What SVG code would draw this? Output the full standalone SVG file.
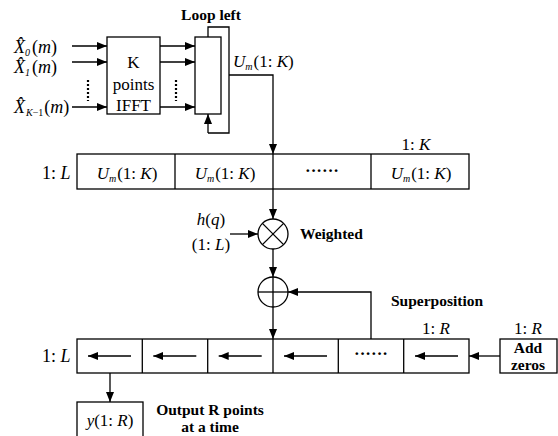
<svg xmlns="http://www.w3.org/2000/svg" width="558" height="436" viewBox="0 0 558 436" font-family="'Liberation Serif', 'Times New Roman', serif">
<defs>
<marker id="ar" viewBox="0 0 10 8" refX="10" refY="4" markerWidth="10" markerHeight="8" markerUnits="userSpaceOnUse" orient="auto">
<path d="M0,0 L10,4 L0,8 Z" fill="#000"/>
</marker>
</defs>
<style>
.ln{fill:none;stroke:#000;stroke-width:1.3}
.bx{fill:#fff;stroke:#000;stroke-width:1.3}
.a{marker-end:url(#ar)}
.m{font-size:17px;font-family:'Liberation Serif','Times New Roman',serif}
.x{font-size:18px;font-family:'Liberation Serif','Times New Roman',serif}
.b{font-size:15.5px;font-weight:bold;font-family:'Liberation Serif','Times New Roman',serif}
.i{font-style:italic}
.s{font-size:10px;font-style:italic}
.dot{stroke:#000;stroke-width:2.2;stroke-dasharray:2,2;fill:none}
</style>
<rect width="558" height="436" fill="#fff"/>

<g id="inputs">
<text class="x" x="14" y="53"><tspan class="i">X̂</tspan><tspan class="s" font-style="normal" dy="3">0</tspan><tspan dy="-3" dx="2">(</tspan><tspan class="i">m</tspan>)</text>
<text class="x" x="14" y="73"><tspan class="i">X̂</tspan><tspan class="s" font-style="normal" dy="3">1</tspan><tspan dy="-3" dx="2">(</tspan><tspan class="i">m</tspan>)</text>
<text class="x" x="14" y="113"><tspan class="i">X̂</tspan><tspan class="s" dy="3" dx="1">K</tspan><tspan font-size="10px">−1</tspan><tspan dy="-3" dx="1">(</tspan><tspan class="i">m</tspan>)</text>
<line class="dot" x1="88" y1="80" x2="88" y2="101"/>
</g>

<g id="ifft">
<rect class="bx" x="107" y="37" width="53" height="77"/>
<text class="m" x="133.5" y="68" text-anchor="middle">K</text>
<text class="m" x="133.5" y="90" text-anchor="middle">points</text>
<text class="m" x="133.5" y="111" text-anchor="middle">IFFT</text>
<line class="dot" x1="176" y1="80" x2="176" y2="101"/>
</g>

<g id="buffer">
<rect class="bx" x="195" y="37" width="26" height="77"/>
<text class="b" x="211" y="20" text-anchor="middle">Loop left</text>
<text class="m" x="233" y="67"><tspan class="i">U</tspan><tspan class="s" dy="3">m</tspan><tspan dy="-3" dx="1">(1: </tspan><tspan class="i">K</tspan>)</text>
</g>

<g id="row1">
<rect class="bx" x="77" y="154" width="392" height="35"/>
<line class="ln" x1="175" y1="154" x2="175" y2="189"/>
<line class="ln" x1="273" y1="154" x2="273" y2="189"/>
<line class="ln" x1="371" y1="154" x2="371" y2="189"/>
<text class="x" x="42" y="179"><tspan>1: </tspan><tspan class="i">L</tspan></text>
<text class="m" x="416" y="150" text-anchor="middle"><tspan>1: </tspan><tspan class="i">K</tspan></text>
<text class="m" x="127" y="179" text-anchor="middle"><tspan class="i">U</tspan><tspan class="s" dy="3">m</tspan><tspan dy="-3" dx="1">(1: </tspan><tspan class="i">K</tspan>)</text>
<text class="m" x="225" y="179" text-anchor="middle"><tspan class="i">U</tspan><tspan class="s" dy="3">m</tspan><tspan dy="-3" dx="1">(1: </tspan><tspan class="i">K</tspan>)</text>
<text class="m" x="322" y="176" text-anchor="middle" font-weight="bold">······</text>
<text class="m" x="421" y="179" text-anchor="middle"><tspan class="i">U</tspan><tspan class="s" dy="3">m</tspan><tspan dy="-3" dx="1">(1: </tspan><tspan class="i">K</tspan>)</text>
</g>

<g id="multiplier">
<circle class="bx" cx="273" cy="234" r="15"/>
<line class="ln" x1="262.4" y1="223.4" x2="283.6" y2="244.6"/>
<line class="ln" x1="283.6" y1="223.4" x2="262.4" y2="244.6"/>
<text class="m" x="211" y="225" text-anchor="middle"><tspan class="i">h</tspan>(<tspan class="i">q</tspan>)</text>
<text class="m" x="211" y="250" text-anchor="middle">(1: <tspan class="i">L</tspan>)</text>
<text class="b" x="300" y="239">Weighted</text>
</g>

<g id="adder">
<circle class="bx" cx="273" cy="292" r="15"/>
<line class="ln" x1="258" y1="292" x2="288" y2="292"/>
<line class="ln" x1="273" y1="277" x2="273" y2="307"/>
<text class="b" x="391" y="306">Superposition</text>
</g>

<g id="row2">
<rect class="bx" x="77" y="339" width="392" height="34"/>
<line class="ln" x1="142.3" y1="339" x2="142.3" y2="373"/>
<line class="ln" x1="207.7" y1="339" x2="207.7" y2="373"/>
<line class="ln" x1="273" y1="339" x2="273" y2="373"/>
<line class="ln" x1="338.3" y1="339" x2="338.3" y2="373"/>
<line class="ln" x1="403.7" y1="339" x2="403.7" y2="373"/>
<text class="x" x="42" y="362"><tspan>1: </tspan><tspan class="i">L</tspan></text>
<text class="m" x="436" y="334" text-anchor="middle"><tspan>1: </tspan><tspan class="i">R</tspan></text>
<line class="ln a" x1="131" y1="356" x2="88" y2="356"/>
<line class="ln a" x1="196.3" y1="356" x2="153.3" y2="356"/>
<line class="ln a" x1="261.7" y1="356" x2="218.7" y2="356"/>
<line class="ln a" x1="327" y1="356" x2="284" y2="356"/>
<text class="m" x="371" y="359" text-anchor="middle" font-weight="bold">······</text>
<line class="ln a" x1="458" y1="356" x2="415" y2="356"/>
</g>

<g id="addzeros">
<rect class="bx" x="500" y="339" width="57" height="34"/>
<text class="m" x="528" y="334" text-anchor="middle"><tspan>1: </tspan><tspan class="i">R</tspan></text>
<text class="b" x="528" y="353" text-anchor="middle">Add</text>
<text class="b" x="528" y="370" text-anchor="middle">zeros</text>
</g>

<g id="output">
<rect class="bx" x="77" y="402" width="66" height="40"/>
<text class="m" x="110" y="426" text-anchor="middle"><tspan class="i">y</tspan>(1: <tspan class="i">R</tspan>)</text>
<text class="b" x="210" y="415" text-anchor="middle">Output R points</text>
<text class="b" x="210" y="432" text-anchor="middle">at a time</text>
</g>

<g id="connectors">
<line class="ln a" x1="72" y1="46" x2="107" y2="46"/>
<line class="ln a" x1="72" y1="62" x2="107" y2="62"/>
<line class="ln a" x1="72" y1="107" x2="107" y2="107"/>
<line class="ln a" x1="160" y1="46" x2="195" y2="46"/>
<line class="ln a" x1="160" y1="62" x2="195" y2="62"/>
<line class="ln a" x1="160" y1="107" x2="195" y2="107"/>
<polyline class="ln" points="208,37 208,27 229,27 229,133 208,133"/>
<line class="ln a" x1="208" y1="133" x2="208" y2="114"/>
<polyline class="ln a" points="229,75 273,75 273,154"/>
<line class="ln a" x1="273" y1="189" x2="273" y2="219"/>
<line class="ln a" x1="230" y1="234" x2="258" y2="234"/>
<line class="ln a" x1="273" y1="249" x2="273" y2="277"/>
<line class="ln a" x1="273" y1="307" x2="273" y2="339"/>
<polyline class="ln a" points="371,339 371,292 288,292"/>
<line class="ln a" x1="500" y1="356" x2="469" y2="356"/>
<line class="ln a" x1="110" y1="373" x2="110" y2="402"/>
</g>
</svg>
